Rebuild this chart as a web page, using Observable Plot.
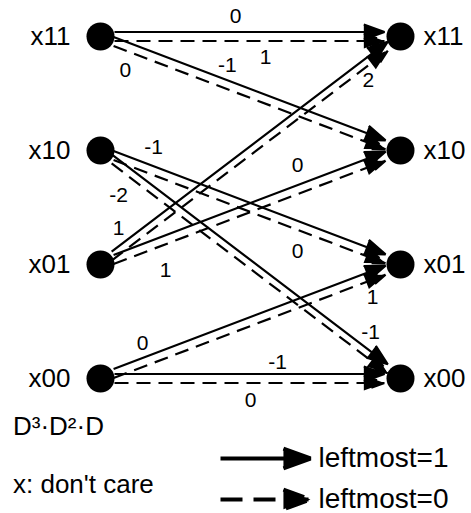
<!DOCTYPE html>
<html><head><meta charset="utf-8">
<script src="https://cdn.jsdelivr.net/npm/d3@7"></script>
<script src="https://cdn.jsdelivr.net/npm/@observablehq/plot@0.6"></script>
<style>
body{margin:0;background:#fff;}
#wrap{position:relative;width:471px;height:513px;background:#fff;font-family:"Liberation Sans Narrow","Arial Narrow","Liberation Sans",Arial,sans-serif;color:#000;}
#main{position:absolute;left:0;top:0;}
#legend{position:absolute;left:200px;top:410px;}
.note{position:absolute;left:13px;font-size:26px;white-space:nowrap;line-height:1;}
</style></head><body><div id="wrap"><div id="main"></div><div id="legend"></div>
<div class="note" id="n0"></div><div class="note" id="n1"></div></div>
<script>
// ---- data ----
const states = ["x11", "x10", "x01", "x00"];
const edgeFrom = ["x11","x11","x11","x11","x10","x10","x10","x10","x01","x01","x01","x01","x00","x00","x00","x00"];
const edgeTo   = ["x11","x11","x10","x10","x01","x01","x00","x00","x11","x11","x10","x10","x01","x01","x00","x00"];
const leftmost = [1,0,1,0,1,0,1,0,1,0,1,0,1,0,1,0];
const weights  = [0,1,-1,0,-1,0,-2,-1,1,2,0,1,0,1,-1,0];
const legendItems = ["leftmost=1", "leftmost=0"];
const notes = ["D³·D²·D", "x: don't care"];

// ---- layout ----
const W = 471, H = 410, xL = 100, xR = 400, yT = 36, yB = 378;
const pxY = (yB - yT) / (states.length - 1);
const pairShift = 4.5;
// label placement: fraction along edge, pixel offset from the edge
const labelT   = [0.45,0.55,0.423,0.083,0.177,0.657,0.06,0.9,0.06,0.893,0.657,0.217,0.14,0.907,0.59,0.5];
const labelOff = [-16,16.5,-15,20,-19,21,36,-28,-18,15,-20,26,-14.5,18,-11.5,17.5];

const row = s => states.length - 1 - states.indexOf(s);
const edges = edgeFrom.map((f, i) => ({from: f, to: edgeTo[i], lm: leftmost[i], w: weights[i], i}));
const font = '"Liberation Sans Narrow","Arial Narrow","Liberation Sans",Arial,sans-serif';

const arrowOpts = {
  x1: () => 0, y1: d => row(d.from), x2: () => 1, y2: d => row(d.to),
  stroke: "black", fill: "black", strokeWidth: 2.2, headAngle: 40, headLength: 15,
  insetStart: 14, insetEnd: 16, strokeLinecap: "butt"
};

const main = Plot.plot({
  width: W, height: H,
  marginLeft: xL, marginRight: W - xR, marginTop: yT, marginBottom: H - yB,
  x: {domain: [0, 1], axis: null},
  y: {domain: [0, states.length - 1], axis: null},
  style: {fontFamily: font, background: "white", color: "black"},
  marks: [
    Plot.arrow(edges.filter(d => d.lm === 1), {...arrowOpts, dy: -pairShift}),
    Plot.arrow(edges.filter(d => d.lm === 0), {...arrowOpts, dy: pairShift, strokeDasharray: "14,8"}),
    Plot.dot(states, {x: () => 0, y: row, r: 14, fill: "black"}),
    Plot.dot(states, {x: () => 1, y: row, r: 14, fill: "black"}),
    Plot.text(states, {x: () => 0, y: row, text: d => d, textAnchor: "end", dx: -30, fontSize: 26}),
    Plot.text(states, {x: () => 1, y: row, text: d => d, textAnchor: "start", dx: 23, fontSize: 26}),
    Plot.text(edges, {
      x: d => labelT[d.i],
      y: d => {
        const a = row(d.from), b = row(d.to), t = labelT[d.i];
        const shift = d.lm === 1 ? -pairShift : pairShift;
        return a + t * (b - a) - (labelOff[d.i] + shift) / pxY;
      },
      text: d => String(d.w), fontSize: 21
    })
  ]
});
document.getElementById("main").appendChild(main);

const legend = Plot.plot({
  width: 271, height: 103,
  marginLeft: 20, marginRight: 161, marginTop: 48, marginBottom: 14,
  x: {domain: [0, 1], axis: null},
  y: {type: "point", domain: legendItems, padding: 0, axis: null},
  style: {fontFamily: font, background: "white", color: "black"},
  marks: [
    Plot.arrow([legendItems[0]], {x1: () => 0, x2: () => 1, y1: d => d, y2: d => d,
      stroke: "black", fill: "black", strokeWidth: 4, headAngle: 40, headLength: 10.8, strokeLinecap: "butt"}),
    Plot.arrow([legendItems[1]], {x1: () => 0, x2: () => 1, y1: d => d, y2: d => d,
      stroke: "black", fill: "black", strokeWidth: 4, headAngle: 40, headLength: 10.8, strokeLinecap: "butt", strokeDasharray: "22,11"}),
    Plot.text(legendItems, {x: () => 1, y: d => d, text: d => d, textAnchor: "start", dx: 8, fontSize: 28})
  ]
});
document.getElementById("legend").appendChild(legend);

const n0 = document.getElementById("n0"), n1 = document.getElementById("n1");
n0.textContent = notes[0]; n0.style.top = "413px";
n1.textContent = notes[1]; n1.style.top = "471px";
</script></body></html>
